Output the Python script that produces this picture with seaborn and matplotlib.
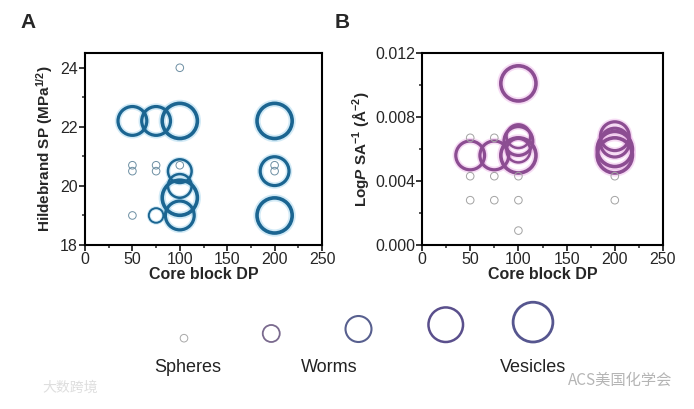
import numpy as np
import pandas as pd
import matplotlib
matplotlib.use("Agg")
import matplotlib.pyplot as plt
from matplotlib.ticker import MultipleLocator, FormatStrFormatter
import seaborn as sns

# Panel A: Hildebrand solubility parameter vs core block DP
a_dp = [200, 100, 200, 100, 50, 75, 100, 200, 200, 100, 100, 75, 100, 50, 50, 75, 75, 100, 200, 50]
a_sp = [22.2, 22.2, 19.0, 19.6, 22.2, 22.2, 19.0, 20.5, 20.5, 20.5, 20.0, 19.0, 24.0, 20.7, 20.5, 20.7, 20.5, 20.7, 20.7, 19.0]
a_cls = [5, 5, 5, 5, 4, 4, 4, 4, 1, 3, 3, 2, 1, 1, 1, 1, 1, 1, 1, 1]

# Panel B: LogP SA^-1 vs core block DP
b_dp = [100, 100, 200, 200, 50, 75, 100, 200, 200, 100, 100, 50, 75, 50, 75, 100, 200, 50, 75, 100, 200, 100]
b_logp = [0.0101, 0.0056, 0.0060, 0.0056, 0.0056, 0.0056, 0.0065, 0.0068, 0.0064, 0.0068, 0.0059,
          0.0067, 0.0067, 0.0043, 0.0043, 0.0043, 0.0043, 0.0028, 0.0028, 0.0028, 0.0028, 0.0009]
b_cls = [5, 5, 5, 5, 4, 4, 4, 4, 4, 3, 3, 1, 1, 1, 1, 1, 1, 1, 1, 1, 1, 1]

# morphology legend
legend_cls = [1, 2, 3, 4, 5]
legend_labels = ["Spheres", "Worms", "Vesicles"]
legend_label_pos = [1.04, 2.67, 5.0]

sizes = {1: 30, 2: 110, 3: 290, 4: 430, 5: 640}
legend_sizes = {1: 30, 2: 150, 3: 350, 4: 620, 5: 820}
widths = {1: 0.7, 2: 1.4, 3: 1.8, 4: 2.3, 5: 2.6}
legend_widths = {1: 0.7, 2: 1.3, 3: 1.5, 4: 1.8, 5: 2.0}

sns.set_style("ticks")
plt.rcParams["font.family"] = ["Liberation Sans", "DejaVu Sans"]
plt.rcParams["mathtext.fontset"] = "custom"
plt.rcParams["mathtext.rm"] = "Liberation Sans:bold"
plt.rcParams["mathtext.bf"] = "Liberation Sans:bold"
plt.rcParams["mathtext.it"] = "Liberation Sans:bold:italic"


def hollow(coll, lw):
    coll.set_edgecolors(coll.get_facecolors())
    coll.set_facecolors("none")
    coll.set_linewidths(lw)


def rings(ax, df, x, y, main, halo, small):
    # soft halo first, then the ring itself
    for layer in ["halo", "main"]:
        pal = {c: (small if c == 1 else (halo if layer == "halo" else main)) for c in sizes}
        sns.scatterplot(data=df, x=x, y=y, hue="cls", size="cls", sizes=sizes,
                        palette=pal, legend=False, ax=ax, zorder=3)
        coll = ax.collections[-1]
        if layer == "halo":
            lw = [widths[c] * 2.0 if c > 1 else 0 for c in df["cls"]]
            hollow(coll, lw)
            coll.set_alpha(0.35)
        else:
            hollow(coll, [widths[c] for c in df["cls"]])


def style(ax):
    for s in ax.spines.values():
        s.set_linewidth(1.5)
        s.set_color("black")
    ax.tick_params(which="major", direction="out", length=4, width=1.3, labelsize=11.5, pad=1)
    ax.tick_params(which="minor", direction="out", length=2.5, width=1.1)
    ax.set_xlim(0, 250)
    ax.xaxis.set_major_locator(MultipleLocator(50))
    ax.xaxis.set_minor_locator(MultipleLocator(25))
    ax.set_xlabel("Core block DP", fontsize=11.5, fontweight="bold", labelpad=0)


fig = plt.figure(figsize=(6.94, 4.09), dpi=100)

df_a = pd.DataFrame({"dp": a_dp, "sp": a_sp, "cls": a_cls})
ax1 = fig.add_axes([85 / 694, 164 / 409, 237 / 694, 192 / 409])
rings(ax1, df_a, "dp", "sp", "#1b6591", "#7fc3e6", "#6d8fa3")
style(ax1)
ax1.set_ylim(18, 24.5)
ax1.yaxis.set_major_locator(MultipleLocator(2))
ax1.yaxis.set_minor_locator(MultipleLocator(1))
ax1.set_ylabel(r"Hildebrand SP (MPa$^{\mathbf{1/2}}$)", fontsize=11, fontweight="bold", labelpad=4)

df_b = pd.DataFrame({"dp": b_dp, "lp": b_logp, "cls": b_cls})
ax2 = fig.add_axes([422 / 694, 164 / 409, 241 / 694, 192 / 409])
rings(ax2, df_b, "dp", "lp", "#8c4d92", "#e69ae0", "#a3a3a3")
style(ax2)
ax2.set_ylim(0, 0.012)
ax2.yaxis.set_major_locator(MultipleLocator(0.004))
ax2.yaxis.set_minor_locator(MultipleLocator(0.002))
ax2.yaxis.set_major_formatter(FormatStrFormatter("%.3f"))
ax2.set_ylabel(r"Log$\mathit{P}$ SA$^{\mathbf{-1}}$ (Å$^{\mathbf{-2}}$)", fontsize=11, fontweight="bold", labelpad=3)

fig.text(20 / 694, 1 - 22 / 409, "A", fontsize=15, fontweight="bold", va="center")
fig.text(335 / 694, 1 - 22 / 409, "B", fontsize=15, fontweight="bold", va="center")

# legend strip: x in class units, y in pixels from bottom
lax = fig.add_axes([0, 0, 1, 130 / 409])
lax.set_xlim(1 - 184 / 87.25, 1 + 510 / 87.25)
lax.set_ylim(0, 130)
lax.axis("off")
diam = [np.sqrt(legend_sizes[c]) / 0.72 for c in legend_cls]
df_l = pd.DataFrame({"cls": legend_cls, "y": [67 + d / 2 for d in diam]})
ring_cols = {1: "#a8a8a8", 2: "#7a6a8e", 3: "#58608f", 4: "#5a4f8c", 5: "#56568f"}
sns.scatterplot(data=df_l, x="cls", y="y", hue="cls", size="cls", sizes=legend_sizes,
                palette=ring_cols, legend=False, ax=lax)
hollow(lax.collections[-1], [legend_widths[c] for c in legend_cls])
for lab, xp in zip(legend_labels, legend_label_pos):
    lax.text(xp, 42, lab, fontsize=13, ha="center", va="center", color="#222222")

fig.text(620 / 694, 1 - 380 / 409, "ACS美国化学会", fontsize=11, color="#b5b5b5",
         ha="center", va="center", family=["Noto Sans CJK SC", "DejaVu Sans"])
fig.text(70 / 694, 1 - 388 / 409, "大数跨境", fontsize=10, color="#dedede",
         ha="center", va="center", family=["Noto Sans CJK SC", "DejaVu Sans"])

fig.savefig("out.png", dpi=100)
